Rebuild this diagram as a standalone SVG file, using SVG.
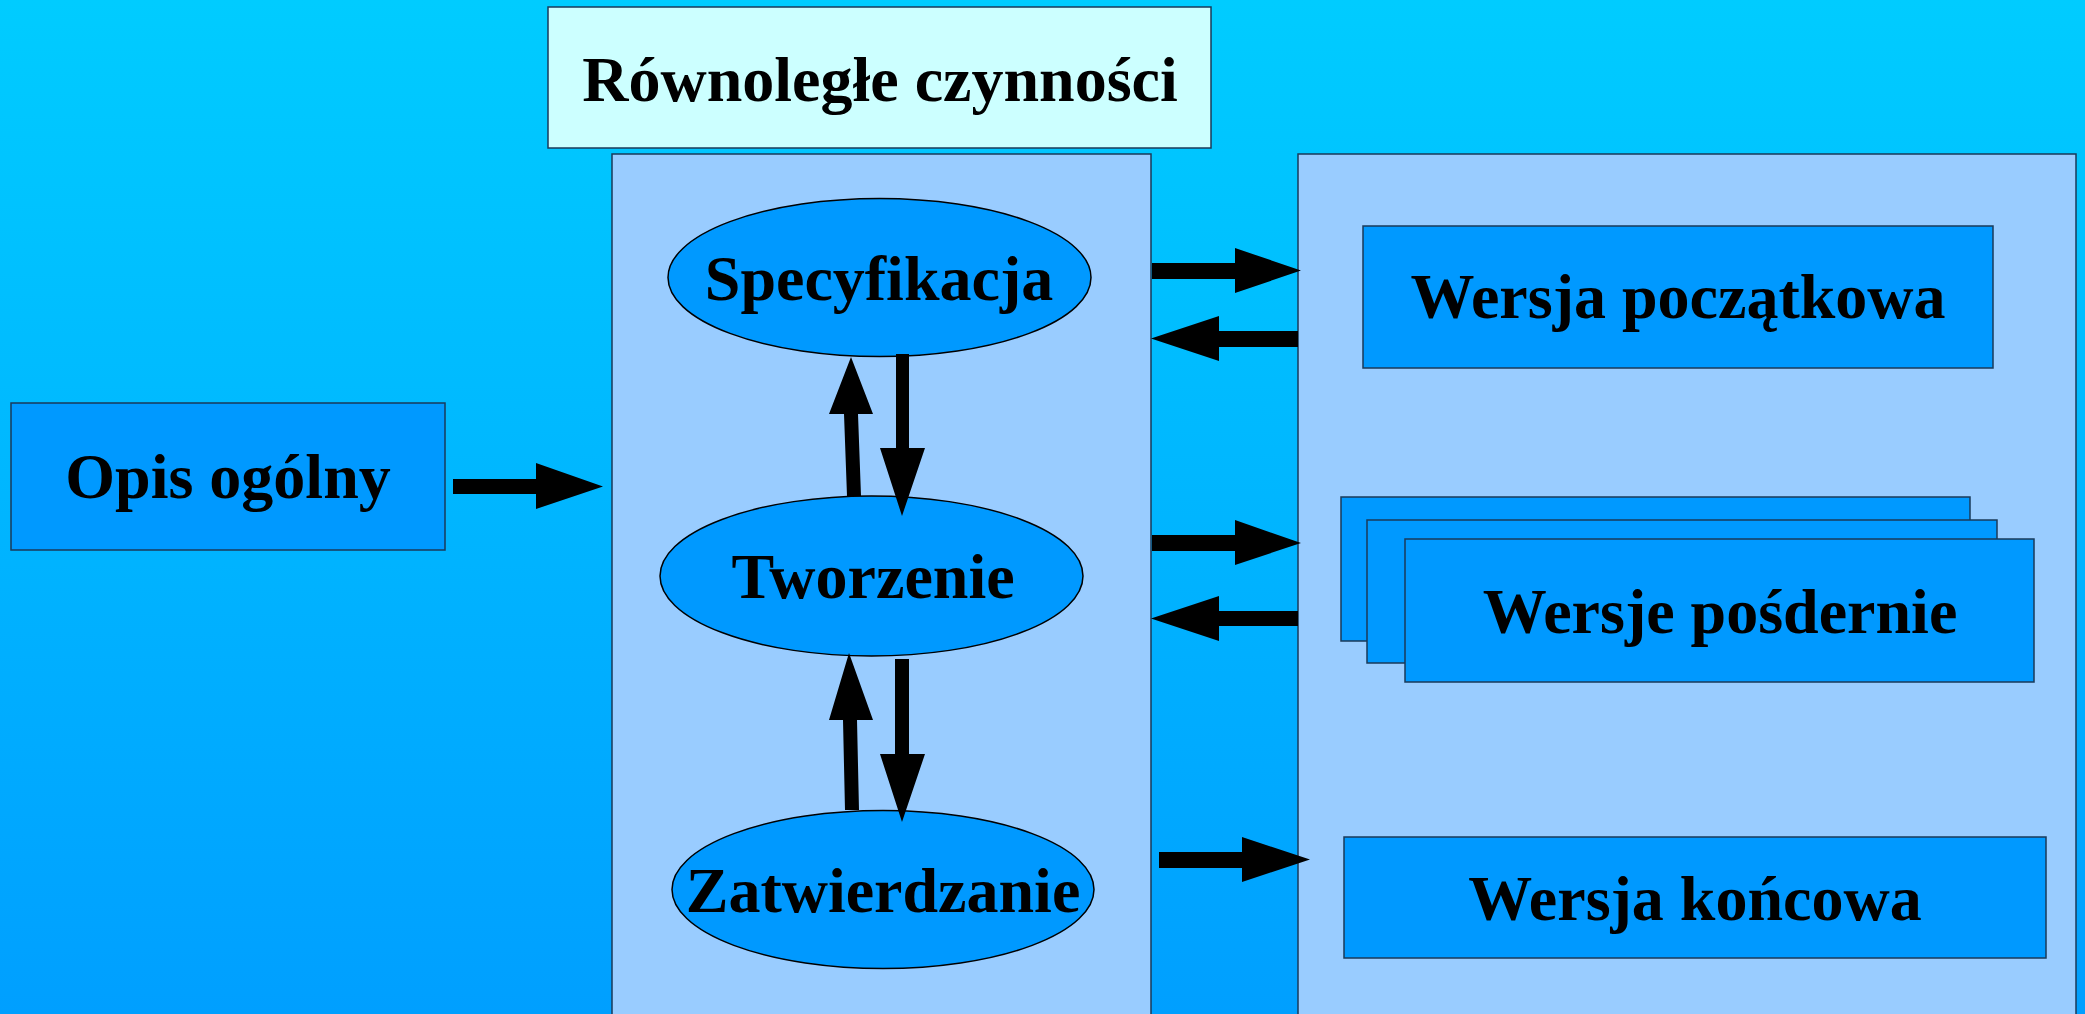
<svg xmlns="http://www.w3.org/2000/svg" width="2085" height="1014" viewBox="0 0 2085 1014">
<defs>
<linearGradient id="bg" x1="0" y1="0" x2="0" y2="1">
<stop offset="0" stop-color="#00CCFF"/>
<stop offset="1" stop-color="#009FFF"/>
</linearGradient>
<style>
.box{fill:#0099FF;stroke:#1a3a5a;stroke-width:1.5}
.cont{fill:#99CCFF;stroke:#1a3a5a;stroke-width:1.5}
.title{fill:#CCFFFF;stroke:#1a3a5a;stroke-width:1.5}
.ell{fill:#0099FF;stroke:#000;stroke-width:1.5}
.lbl{font-family:"Liberation Serif","Times New Roman",serif;font-weight:bold;font-size:64px;fill:#000;text-anchor:middle}
.arr{fill:#000;stroke:none}
</style>
</defs>
<rect x="0" y="0" width="2085" height="1014" fill="url(#bg)"/>
<g id="title">
<rect class="title" x="548" y="7" width="663" height="141"/>
<text class="lbl" x="880" y="101">Równoległe czynności</text>
</g>
<g id="container-activities">
<rect class="cont" x="612" y="154" width="539" height="870"/>
</g>
<g id="container-versions">
<rect class="cont" x="1298" y="154" width="778" height="870"/>
</g>
<g id="opis">
<rect class="box" x="11" y="403" width="434" height="147"/>
<text class="lbl" x="228" y="498">Opis ogólny</text>
</g>
<g id="specyfikacja">
<ellipse class="ell" cx="879.5" cy="277.5" rx="211.5" ry="79"/>
<text class="lbl" x="879" y="300">Specyfikacja</text>
</g>
<g id="tworzenie">
<ellipse class="ell" cx="871.5" cy="576" rx="211.5" ry="80"/>
<text class="lbl" x="873" y="598">Tworzenie</text>
</g>
<g id="zatwierdzanie">
<ellipse class="ell" cx="883" cy="889.5" rx="211" ry="79"/>
<text class="lbl" x="883" y="912">Zatwierdzanie</text>
</g>
<g id="wersja-poczatkowa">
<rect class="box" x="1363" y="226" width="630" height="142"/>
<text class="lbl" x="1678" y="318">Wersja początkowa</text>
</g>
<g id="wersje-posrednie">
<rect class="box" x="1341" y="497" width="629" height="144"/>
<rect class="box" x="1367" y="520" width="630" height="143"/>
<rect class="box" x="1405" y="539" width="629" height="143"/>
<text class="lbl" x="1720" y="633">Wersje pośdernie</text>
</g>
<g id="wersja-koncowa">
<rect class="box" x="1344" y="837" width="702" height="121"/>
<text class="lbl" x="1695" y="920">Wersja końcowa</text>
</g>
<g id="connectors">
<polygon class="arr" points="453,479 536,479 536,463 603,486.5 536,509 536,494 453,494"/>
<polygon class="arr" points="1152,263 1235,263 1235,248 1301,270.5 1235,293 1235,279 1152,279"/>
<polygon class="arr" points="1298,331 1219,331 1219,316 1151,338.5 1219,361 1219,347 1298,347"/>
<polygon class="arr" points="1152,535 1235,535 1235,520 1301,543 1235,565 1235,551 1152,551"/>
<polygon class="arr" points="1298,611 1219,611 1219,596 1151,618.5 1219,641 1219,626 1298,626"/>
<polygon class="arr" points="1159,852 1242,852 1242,837 1310,859.5 1242,882 1242,868 1159,868"/>
<polygon class="arr" points="847,496 844,414 829,414 851,357 873,414 858,414 861,496"/>
<polygon class="arr" points="896,354 909,354 909,448 925,448 902,516 880,448 896,448"/>
<polygon class="arr" points="845,810 843,720 829,720 849,653 873,720 857,720 859,810"/>
<polygon class="arr" points="895,659 909,659 909,754 925,754 902,822 880,754 895,754"/>
</g>
</svg>
